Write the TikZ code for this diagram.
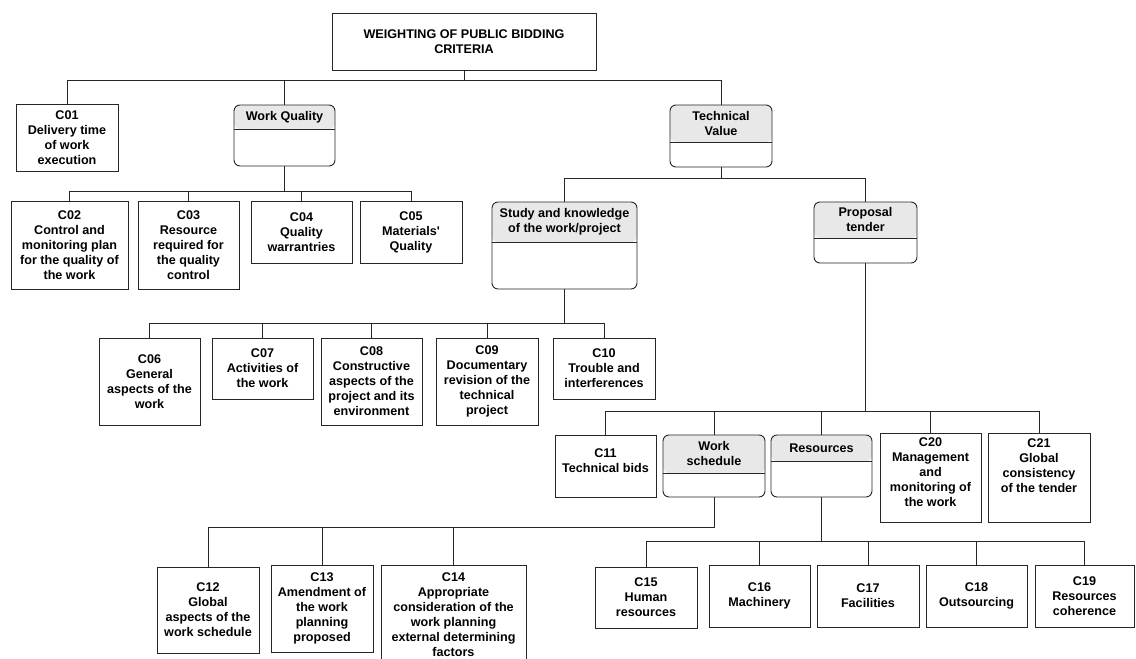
\documentclass[tikz,border=0pt]{standalone}
\usepackage{fontspec}
\setmainfont{Liberation Sans}
\newcommand\lbl{\fontsize{12.6}{15}\selectfont\bfseries}
\colorlet{hdrgray}{gray!18}
\tikzset{
  box/.style={draw=black!85,line width=0.9pt,align=center,inner sep=1pt,font=\lbl},
  sz/.style 2 args={minimum width=#1pt,minimum height=#2pt},
  grp/.style={box,rounded corners=6pt,
    path picture={
      \fill[hdrgray] (path picture bounding box.north west) rectangle ([yshift=-#1]path picture bounding box.north east);
      \draw[line width=0.9pt,black!85] ([yshift=-#1]path picture bounding box.north west) -- ([yshift=-#1]path picture bounding box.north east);}},
  hd/.style={anchor=north,minimum height=#1,align=center,inner sep=0pt,font=\lbl},
  link/.style={draw=black!85,line width=0.8pt}
}
\begin{document}
\begin{tikzpicture}[x=1pt,y=1pt]
  \useasboundingbox (0,0) rectangle (1136,-659);
  \node[box,sz={264}{57}] (root) at (464,-41.5) {WEIGHTING OF PUBLIC BIDDING\\CRITERIA};
  \node[box,sz={102}{67}] (c01) at (67,-137.5) {C01\\Delivery time\\of work\\execution};
  \node[grp=24pt,sz={101}{61}] (wq) at (284.5,-135.5) {};
  \node[hd=24pt] (wqh) at (wq.north) {Work Quality};
  \node[grp=37pt,sz={102}{62}] (tv) at (721,-136) {};
  \node[hd=37pt] (tvh) at (tv.north) {Technical\\Value};
  \node[box,sz={117}{88}] (c02) at (69.5,-245) {C02\\Control and\\monitoring plan\\for the quality of\\the work};
  \node[box,sz={101}{88}] (c03) at (188.5,-245) {C03\\Resource\\required for\\the quality\\control};
  \node[box,sz={101}{62}] (c04) at (301.5,-232) {C04\\Quality\\warrantries};
  \node[box,sz={102}{62}] (c05) at (411,-232) {C05\\Materials\textquotesingle\\Quality};
  \node[grp=40pt,sz={145}{87}] (st) at (564.5,-245.5) {};
  \node[hd=40pt] (sth) at (st.north) {Study and knowledge\\of the work/project};
  \node[grp=36pt,sz={103}{61}] (pt) at (865.5,-232.5) {};
  \node[hd=36pt] (pth) at (pt.north) {Proposal\\tender};
  \node[box,sz={101}{87}] (c06) at (149.5,-381.5) {C06\\General\\aspects of the\\work};
  \node[box,sz={101}{61}] (c07) at (262.5,-368.5) {C07\\Activities of\\the work};
  \node[box,sz={101}{87}] (c08) at (371.5,-381.5) {C08\\Constructive\\aspects of the\\project and its\\environment};
  \node[box,sz={102}{87}] (c09) at (487,-381.5) {C09\\Documentary\\revision of the\\technical\\project};
  \node[box,sz={102}{61}] (c10) at (604,-368.5) {C10\\Trouble and\\interferences};
  \node[box,sz={101}{62},text depth=10pt] (c11) at (605.5,-466) {C11\\Technical bids};
  \node[grp=38pt,sz={102}{62}] (ws) at (714,-466) {};
  \node[hd=38pt] (wsh) at (ws.north) {Work\\schedule};
  \node[grp=26pt,sz={101}{62}] (rs) at (821.5,-466) {};
  \node[hd=26pt] (rsh) at (rs.north) {Resources};
  \node[box,sz={101}{89},text depth=10pt] (c20) at (930.5,-477.5) {C20\\Management\\and\\monitoring of\\the work};
  \node[box,sz={102}{89},text depth=24pt] (c21) at (1039,-477.5) {C21\\Global\\consistency\\of the tender};
  \node[box,sz={102}{86}] (c12) at (208,-610) {C12\\Global\\aspects of the\\work schedule};
  \node[box,sz={102}{87}] (c13) at (322,-608.5) {C13\\Amendment of\\the work\\planning\\proposed};
  \node[box,sz={145}{99}] (c14) at (453.5,-614.5) {C14\\Appropriate\\consideration of the\\work planning\\external determining\\factors};
  \node[box,sz={102}{61}] (c15) at (646,-597.5) {C15\\Human\\resources};
  \node[box,sz={101}{62}] (c16) at (759.5,-596) {C16\\Machinery};
  \node[box,sz={102}{62}] (c17) at (868,-596) {C17\\Facilities};
  \node[box,sz={101}{62}] (c18) at (976.5,-596) {C18\\Outsourcing};
  \node[box,sz={99}{62}] (c19) at (1084.5,-596) {C19\\Resources\\coherence};
  \foreach \kid in {c01,wq,tv} \draw[link] (root.south) -- ++(0,-10) -| (\kid.north);
  \foreach \kid in {c02,c03,c04,c05} \draw[link] (wq.south) -- ++(0,-25) -| (\kid.north);
  \foreach \kid in {st,pt} \draw[link] (tv.south) -- ++(0,-11) -| (\kid.north);
  \foreach \kid in {c06,c07,c08,c09,c10} \draw[link] (st.south) -- ++(0,-34) -| (\kid.north);
  \foreach \kid in {c11,ws,rs,c20,c21} \draw[link] (pt.south) -- ++(0,-148) -| (\kid.north);
  \foreach \kid in {c12,c13,c14} \draw[link] (ws.south) -- ++(0,-30) -| (\kid.north);
  \foreach \kid in {c15,c16,c17,c18,c19} \draw[link] (rs.south) -- ++(0,-44) -| (\kid.north);
\end{tikzpicture}
\end{document}
